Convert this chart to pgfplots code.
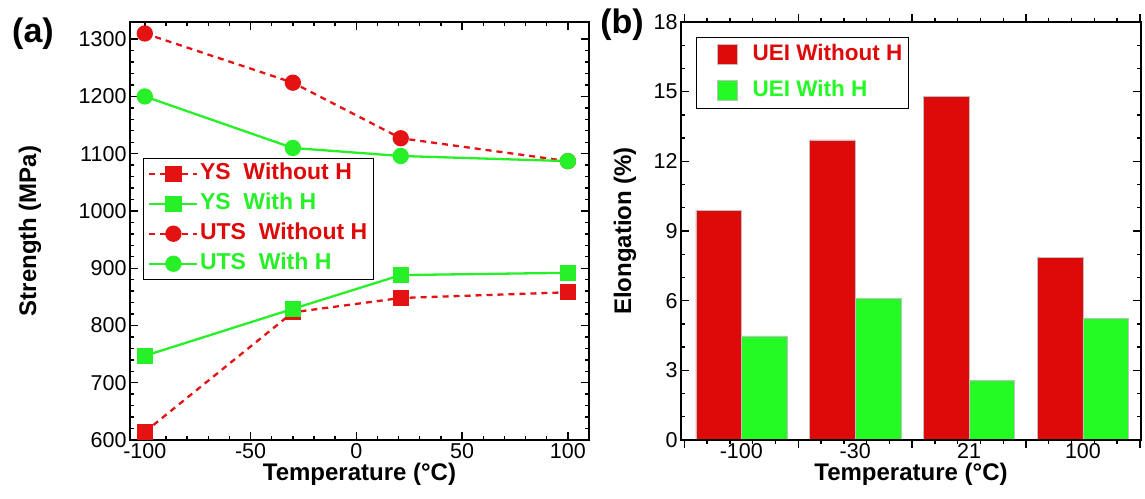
\documentclass[border=0pt]{standalone}
\usepackage{pgfplots}
\pgfplotsset{compat=1.18}
\usepackage{fontspec}
\setmainfont{Liberation Sans}
\definecolor{myred}{RGB}{222,10,10}
\definecolor{mygreen}{RGB}{36,250,36}
\definecolor{lred}{RGB}{228,18,18}
\definecolor{lgreen}{RGB}{40,240,40}

\pgfplotstableread{
T    ysno  yswith utsno utswith
-100 614   747    1310  1200
-30  823   829    1224  1110
21   848   888    1127  1096
100  858   892    1087  1087
}\strength

\pgfplotstableread{
x  without with
0  9.9     4.48
1  12.92   6.11
2  14.8    2.58
3  7.88    5.25
}\elong

\pgfplotsset{
  common/.style={
    scale only axis,
    tick align=inside,
    major tick length=8pt, minor tick length=4pt,
    every tick/.style={black, line width=1.4pt},
    axis line style={line width=1.8pt},
    ticklabel style={font=\fontsize{21.5}{24}\selectfont},
    /pgf/number format/assume math mode=true,
    /pgf/number format/1000 sep={},
    label style={font=\fontsize{24}{28}\selectfont\bfseries},
  }
}

\begin{document}
\begin{tikzpicture}
\path[use as bounding box] (0pt,0pt) rectangle (1145pt,498pt);

% ---------- panel (a) ----------
\begin{axis}[common,
  at={(130pt,58pt)}, anchor=south west,
  width=459pt, height=418pt,
  xmin=-107, xmax=110, ymin=600, ymax=1330,
  xtick={-100,-50,0,50,100}, minor x tick num=4,
  ytick={600,700,...,1300}, minor y tick num=4,
  xlabel={Temperature (°C)},
  ylabel={Strength (MPa)},
  xlabel style={at={(axis description cs:0.5,-0.083)}, anchor=center},
  ylabel style={at={(axis description cs:-0.218,0.5)}, anchor=center},
  legend style={at={(axis description cs:0.028,0.675)}, anchor=north west,
    draw=black, line width=0.8pt, fill=white,
    font=\fontsize{23}{26}\selectfont\bfseries,
    inner xsep=5pt, inner ysep=4pt,
    row sep=7pt,
    nodes={inner sep=1.5pt, text height=16pt, text depth=4pt}},
  legend cell align=left,
  legend image code/.code={\draw[mark repeat=2,mark phase=2,#1] plot coordinates {(0pt,0pt) (24pt,0pt) (48pt,0pt)};},
]
\addplot[color=lred, line width=2.3pt, dash pattern=on 6pt off 5pt, mark=square*, mark size=7pt, mark options={solid, fill=lred}] table[x=T, y=ysno] {\strength};
\addlegendentry{\textcolor{myred}{YS\ \ Without H}}
\addplot[color=lgreen, line width=2.3pt, mark=square*, mark size=7pt, mark options={solid, fill=lgreen}] table[x=T, y=yswith] {\strength};
\addlegendentry{\textcolor{lgreen}{YS\ \ With H}}
\addplot[color=lred, line width=2.3pt, dash pattern=on 6pt off 5pt, mark=*, mark size=7pt, mark options={solid, fill=lred}] table[x=T, y=utsno] {\strength};
\addlegendentry{\textcolor{myred}{UTS\ \ Without H}}
\addplot[color=lgreen, line width=2.3pt, mark=*, mark size=7pt, mark options={solid, fill=lgreen}] table[x=T, y=utswith] {\strength};
\addlegendentry{\textcolor{lgreen}{UTS\ \ With H}}
\end{axis}

% ---------- panel (b) ----------
\begin{axis}[common,
  at={(681pt,58pt)}, anchor=south west,
  width=460pt, height=418pt,
  ybar=0pt, bar width=0.4,
  axis on top,
  xmin=-0.53, xmax=3.51, ymin=0, ymax=18,
  xtick={-0.5,0.5,1.5,2.5,3.5}, xticklabels={},
  minor xtick={-0.3,-0.1,0.1,0.3,0.7,0.9,1.1,1.3,1.7,1.9,2.1,2.3,2.7,2.9,3.1,3.3},
  extra x ticks={0,1,2,3},
  extra x tick labels={-100,-30,21,100},
  extra x tick style={major tick length=0pt},
  ytick={0,3,...,18}, minor y tick num=2,
  xlabel={Temperature (°C)},
  ylabel={Elongation (\%)},
  xlabel style={at={(axis description cs:0.5,-0.083)}, anchor=center},
  ylabel style={at={(axis description cs:-0.122,0.5)}, anchor=center},
  legend style={at={(axis description cs:0.033,0.964)}, anchor=north west,
    draw=black, line width=0.8pt, fill=white,
    font=\fontsize{22.5}{26}\selectfont\bfseries,
    inner xsep=5pt, inner ysep=6pt,
    row sep=13pt,
    nodes={inner sep=1.5pt, text height=16pt, text depth=4pt}},
  legend cell align=left,
  legend image code/.code={\path (0pt,0pt); \draw[#1, draw=gray!50, line width=0.4pt] (15pt,-9pt) rectangle (35pt,11pt);},
]
\addplot[fill=myred, draw=gray!50, line width=0.5pt] table[x=x, y=without] {\elong};
\addlegendentry{\hspace{14pt}\textcolor{myred}{UEI Without H}}
\addplot[fill=mygreen, draw=gray!50, line width=0.5pt] table[x=x, y=with] {\elong};
\addlegendentry{\hspace{14pt}\textcolor{mygreen}{UEI With H}}
\end{axis}

\node[font=\fontsize{34}{38}\selectfont\bfseries] at (33pt,464pt) {(a)};
\node[font=\fontsize{34}{38}\selectfont\bfseries] at (622pt,473pt) {(b)};
\end{tikzpicture}
\end{document}
